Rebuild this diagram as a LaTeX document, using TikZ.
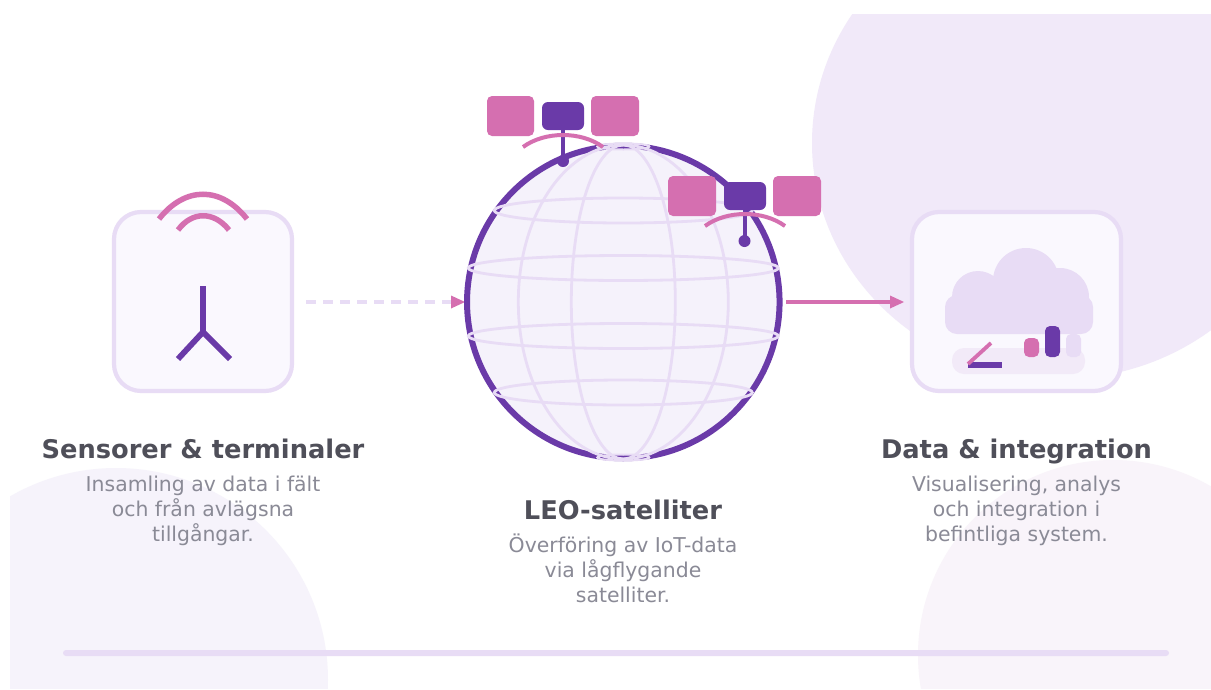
\documentclass[tikz,border=0pt]{standalone}
\usepackage{fontspec}
\setmainfont{DejaVu Sans}
\definecolor{purp}{HTML}{6A3AA8}
\definecolor{pink}{HTML}{D56FB0}
\definecolor{lav}{HTML}{E8DCF5}
\definecolor{bgA}{HTML}{F1E9F9}
\definecolor{bgB}{HTML}{F6F3FB}
\definecolor{bgC}{HTML}{F9F4FA}
\definecolor{boxfill}{HTML}{FAF8FE}
\definecolor{globefill}{HTML}{F5F2FB}
\definecolor{pillc}{HTML}{F2EAF8}
\definecolor{ttl}{HTML}{4F4F59}
\definecolor{bdy}{HTML}{8A8A96}
\tikzset{
 x=1pt,y=-1pt,
 iconbox/.style={draw=lav,line width=4.2pt,fill=boxfill,rounded corners=27pt},
 grid/.style={draw=lav,line width=2.8pt},
 sol/.style={fill=pink,rounded corners=5pt},
 core/.style={fill=purp,rounded corners=6pt},
 ttlnode/.style={text=ttl,font=\fontsize{25.7}{30}\selectfont\bfseries,anchor=center,inner sep=0pt,text height=20pt,text depth=6pt},
 bdynode/.style={text=bdy,font=\fontsize{20.4}{25}\selectfont,anchor=center,inner sep=0pt,align=center,text height=15pt,text depth=5pt},
 wave/.style={draw=pink,line width=5.5pt},
 ant/.style={draw=purp,line width=5.8pt},
 satarc/.style={draw=pink,line width=4pt},
}
\begin{document}
\begin{tikzpicture}
\useasboundingbox (0,0) rectangle (1211,689);
\fill[white] (0,0) rectangle (1211,689);
\begin{scope}
\clip (10,14) rectangle (1211,688.5);
\fill[bgA] (1060,143) ellipse[x radius=248,y radius=236];
\fill[bgB] (116,680) circle[radius=212];
\fill[bgC] (1113,655) circle[radius=195];
\end{scope}
\fill[lav,rounded corners=3pt] (63,650) rectangle (1169,656);
% sensor box
\draw[iconbox] (114,212) rectangle (292,391);
\coordinate (antTop) at (203,286);
\coordinate (antMid) at (203,332);
\coordinate (antL) at (178,359);
\coordinate (antR) at (230,359);
\draw[ant,line join=miter] (antTop)--(antMid) (antL)--(antMid)--(antR);
\draw[wave] (159,219) .. controls (185,186) and (221,186) .. (247,219);
\draw[wave] (178,230) .. controls (192,211) and (214,211) .. (229,230);
% arrows behind the globe
\coordinate (a1s) at (306,302);
\coordinate (a1e) at (452,302);
\coordinate (a1t) at (465,302);
\coordinate (a2s) at (786,302);
\coordinate (a2e) at (892,302);
\coordinate (a2t) at (904,302);
\draw[lav,line width=4.5pt,dash pattern=on 10pt off 7pt] (a1s)--(a1e);
\fill[pink] (a1t)--(451,295.5)--(451,308.5)--cycle;
% globe
\node[circle,draw=purp,line width=6pt,fill=globefill,minimum size=312.5pt,inner sep=0pt] (globe) at (623.3,302) {};
\foreach \r in {52,105} \draw[grid] (623.3,302) ellipse[x radius=\r,y radius=157];
\foreach \yy/\r in {210.5/129,268/155,336/155,392.5/129} \draw[grid] (623.3,\yy) ellipse[x radius=\r,y radius=12.5];
\draw[lav,line width=2pt] (623.3,146.5) ellipse[x radius=26,y radius=3];
\draw[lav,line width=2pt] (623.3,457.5) ellipse[x radius=26,y radius=3];
% sat 1
\fill[sol] (487,96) rectangle (534,136);
\fill[sol] (591,96) rectangle (639,136);
\fill[core] (542,102) rectangle (584,130);
\draw[purp,line width=4.5pt] (563,130)--(563,160);
\fill[purp] (563,161) circle[radius=6];
\draw[satarc] (523,147) .. controls (545,131) and (581,131) .. (603,147);
% sat 2
\fill[sol] (668,176) rectangle (716,216);
\fill[sol] (773,176) rectangle (821,216);
\fill[core] (724,182) rectangle (766,210);
\draw[purp,line width=4.5pt] (745,210)--(745,240);
\fill[purp] (744.5,241) circle[radius=6];
\draw[satarc] (705,226) .. controls (727,210) and (763,210) .. (785,226);
% data box
\draw[iconbox] (912,212) rectangle (1121,391);
\fill[lav] (978,297) circle[radius=26] (1026,281) circle[radius=33] (1060,297) circle[radius=29];
\fill[lav,rounded corners=12pt] (945,295) rectangle (1093,334);
\fill[pillc,rounded corners=12pt] (952,348) rectangle (1085,374);
\fill[purp] (968,361.5) rectangle (1002,367.5);
\draw[pink,line width=3.8pt] (968,364)--(991,343);
\fill[pink,rounded corners=5pt] (1024,338) rectangle (1039,357);
\fill[purp,rounded corners=5pt] (1045,326) rectangle (1060,357);
\fill[lav,rounded corners=5pt] (1066,334) rectangle (1081,357);
% solid arrow
\draw[pink,line width=4.5pt] (a2s)--(a2e);
\fill[pink] (a2t)--(890,295.5)--(890,308.5)--cycle;
% text
\node[ttlnode] (t1) at (203,451) {Sensorer \& terminaler};
\node[bdynode] (b1) at (203,536.5) {Insamling av data i fält\\och från avlägsna\\tillgångar.};
\node[ttlnode] (t2) at (623,512) {LEO-satelliter};
\node[bdynode] (b2) at (623,597.5) {Överföring av IoT-data\\via lågflygande\\satelliter.};
\node[ttlnode] (t3) at (1016.5,451) {Data \& integration};
\node[bdynode] (b3) at (1016.5,536.5) {Visualisering, analys\\och integration i\\befintliga system.};
\end{tikzpicture}
\end{document}
